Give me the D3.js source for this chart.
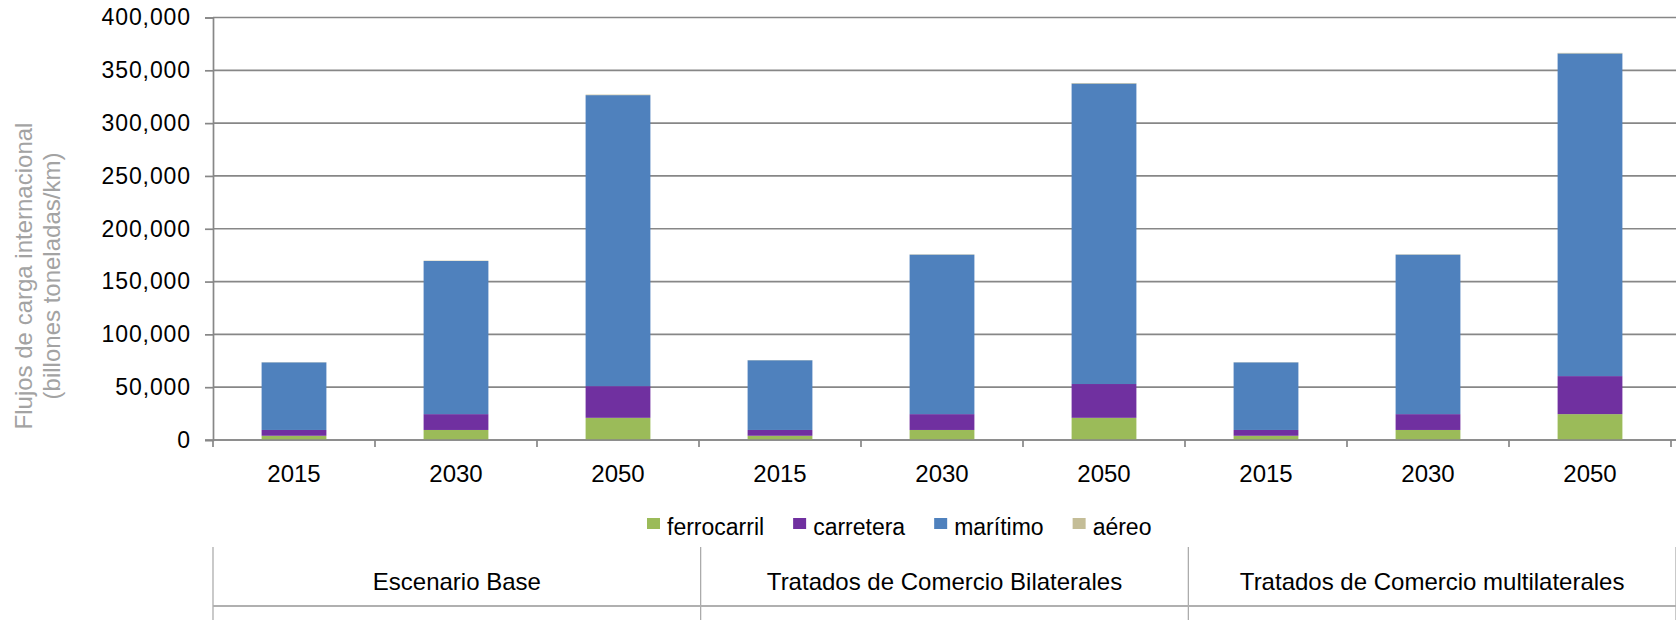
<!DOCTYPE html>
<html>
<head>
<meta charset="utf-8">
<script src="https://cdn.jsdelivr.net/npm/d3@7"></script>
<style>
  html, body { margin: 0; padding: 0; background: #fff; }
  svg { display: block; font-family: "Liberation Sans", Arial, sans-serif; }
</style>
</head>
<body>
<svg id="chart" width="1676" height="620"></svg>
<script>
// Freight flows by mode, three trade scenarios x three years
const years = ["2015", "2030", "2050", "2015", "2030", "2050", "2015", "2030", "2050"];
const scenarios = ["Escenario Base", "Tratados de Comercio Bilaterales", "Tratados de Comercio multilaterales"];
const modes = ["ferrocarril", "carretera", "marítimo", "aéreo"];
const ferrocarril = [4000, 9500, 21000, 4000, 9500, 21000, 4000, 9500, 24500];
const carretera   = [5500, 15000, 30000, 5500, 15000, 32000, 5500, 15000, 36000];
const maritimo    = [64000, 145000, 275500, 66000, 151000, 284500, 64000, 151000, 305500];
const aereo       = [150, 300, 500, 150, 300, 500, 150, 300, 500];
const yTicks = [0, 50000, 100000, 150000, 200000, 250000, 300000, 350000, 400000];
const colors = ["#9BBB59", "#7030A0", "#4F81BD", "#C4BD97"];

const W = 1676, H = 620;
const plotLeft = 213, plotRight = 1671, plotTop = 17.5, plotBottom = 440;
const svg = d3.select("#chart");

const rows = years.map((yr, i) => ({
  key: i, year: yr,
  "ferrocarril": ferrocarril[i], "carretera": carretera[i],
  "marítimo": maritimo[i], "aéreo": aereo[i]
}));

const x = d3.scaleBand().domain(rows.map(d => d.key)).range([plotLeft, plotRight])
  .paddingInner(0.6).paddingOuter(0.3);
const y = d3.scaleLinear().domain([0, 400000]).range([plotBottom, plotTop]);
const color = d3.scaleOrdinal().domain(modes).range(colors);

// horizontal gridlines
svg.append("g").selectAll("line").data(yTicks).join("line")
  .attr("x1", plotLeft).attr("x2", W)
  .attr("y1", d => y(d)).attr("y2", d => y(d))
  .attr("stroke", "#878787").attr("stroke-width", 1.7);

// y axis
const yAxis = svg.append("g").attr("transform", `translate(${plotLeft},0)`)
  .call(d3.axisLeft(y).tickValues(yTicks).tickSize(8).tickPadding(14)
    .tickFormat(d3.format(",")));
yAxis.select(".domain").attr("stroke", "#878787").attr("stroke-width", 1.7);
yAxis.selectAll(".tick line").attr("stroke", "#878787").attr("stroke-width", 1.7);
yAxis.selectAll(".tick text").attr("font-size", 23).attr("fill", "#000")
  .attr("letter-spacing", "0.9px").attr("font-family", "Liberation Sans, Arial, sans-serif");

// stacked bars
const series = d3.stack().keys(modes)(rows);
svg.append("g").selectAll("g").data(series).join("g")
  .attr("fill", d => color(d.key))
  .selectAll("rect").data(d => d).join("rect")
  .attr("x", d => x(d.data.key))
  .attr("width", x.bandwidth())
  .attr("y", d => y(d[1]))
  .attr("height", d => y(d[0]) - y(d[1]));

// x axis line and category ticks
const step = x.step();
svg.append("line").attr("x1", plotLeft - 8).attr("x2", W)
  .attr("y1", plotBottom).attr("y2", plotBottom)
  .attr("stroke", "#878787").attr("stroke-width", 1.7);
svg.append("g").selectAll("line").data(d3.range(years.length + 1)).join("line")
  .attr("x1", i => plotLeft + i * step).attr("x2", i => plotLeft + i * step)
  .attr("y1", plotBottom).attr("y2", plotBottom + 7)
  .attr("stroke", "#878787").attr("stroke-width", 1.7);

// year labels
svg.append("g").selectAll("text").data(rows).join("text")
  .attr("x", d => x(d.key) + x.bandwidth() / 2)
  .attr("y", 482)
  .attr("text-anchor", "middle")
  .attr("font-size", 24).attr("fill", "#000")
  .text(d => d.year);

// y axis title
const title = svg.append("text")
  .attr("transform", "translate(0,276) rotate(-90)")
  .attr("text-anchor", "middle").attr("font-size", 24).attr("fill", "#a3a3a3");
title.append("tspan").attr("x", 0).attr("y", 32).text("Flujos de carga internacional");
title.append("tspan").attr("x", 0).attr("y", 60).text("(billones toneladas/km)");

// legend
const legend = svg.append("g").attr("transform", "translate(647,0)");
let lx = 0;
modes.forEach(m => {
  const g = legend.append("g").attr("transform", `translate(${lx},0)`);
  g.append("rect").attr("x", 0).attr("y", 518).attr("width", 13).attr("height", 11)
    .attr("fill", color(m));
  const t = g.append("text").attr("x", 20).attr("y", 535)
    .attr("font-size", 23).attr("fill", "#000").text(m);
  lx += 20 + t.node().getComputedTextLength() + 29;
});

// scenario table under the axis
const xs = d3.scaleBand().domain(scenarios).range([plotLeft, W]);
const table = svg.append("g");
table.selectAll("line.v").data([...scenarios.map(s => xs(s)), W]).join("line")
  .attr("class", "v")
  .attr("x1", d => d).attr("x2", d => d)
  .attr("y1", 547).attr("y2", H)
  .attr("stroke", "#a6a6a6").attr("stroke-width", 1.2);
table.append("line").attr("x1", plotLeft).attr("x2", W)
  .attr("y1", 606).attr("y2", 606)
  .attr("stroke", "#b0b0b0").attr("stroke-width", 1.8);
table.selectAll("text").data(scenarios).join("text")
  .attr("x", d => xs(d) + xs.bandwidth() / 2)
  .attr("y", 590)
  .attr("text-anchor", "middle")
  .attr("font-size", 24).attr("fill", "#000")
  .text(d => d);
</script>
</body>
</html>
